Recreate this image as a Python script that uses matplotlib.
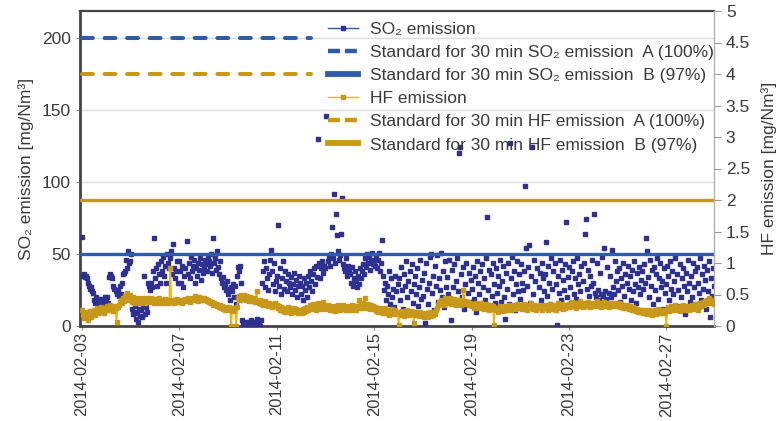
import numpy as np
import pandas as pd
import matplotlib
matplotlib.use("Agg")
import matplotlib.pyplot as plt
import matplotlib.dates as mdates
from matplotlib.lines import Line2D
from matplotlib.ticker import FuncFormatter, MultipleLocator

plt.rcParams["font.family"] = ["Liberation Sans", "DejaVu Sans"]

# ---- hourly SO2 concentration [mg/Nm3], one row per day from 2014-02-03 ----
so2_values = [
    62, 35, 36, 34, 35, 33, 30, 28, 26, 27, 24, 23, 18, 16, 20, 17, 19, 15, 17, 19, 16, 18, 15, 20,   # 02-03
    18, 20, 16, 34, 36, 35, 33, 28, 26, 24, 22, 25, 21, 28, 22, 30, 36, 37, 38, 46, 40, 52, 44, 45,   # 02-04
    50, 12, 8, 10, 14, 5, 9, 3, 12, 7, 11, 6, 14, 35, 8, 13, 10, 30, 28, 25, 30, 27, 38, 61,          # 02-05
    33, 40, 28, 43, 36, 30, 45, 38, 48, 35, 42, 30, 50, 44, 40, 47, 52, 36, 57, 40, 33, 38, 45, 30,   # 02-06
    45, 38, 30, 42, 27, 35, 40, 59, 36, 44, 33, 48, 38, 42, 46, 30, 40, 35, 44, 39, 47, 32, 43, 37,   # 02-07
    40, 46, 43, 38, 48, 45, 42, 50, 37, 61, 44, 47, 39, 52, 41, 36, 45, 33, 30, 34, 27, 29, 25, 31,   # 02-08
    22, 26, 18, 27, 24, 29, 20, 28, 15, 35, 41, 38, 42, 30, 4, 2, 1, 3, 0, 2, 3, 1, 2, 4,             # 02-09
    1, 3, 0, 2, 5, 1, 2, 0, 4, 30, 38, 45, 27, 40, 33, 25, 36, 46, 53, 38, 29, 44, 24, 31,            # 02-10
    35, 70, 28, 40, 22, 33, 45, 26, 38, 31, 24, 36, 30, 27, 34, 22, 29, 37, 25, 32, 20, 28, 35, 30,   # 02-11
    22, 28, 18, 33, 25, 30, 20, 35, 27, 38, 31, 24, 36, 40, 29, 42, 34, 130, 44, 33, 40, 45, 37, 42,  # 02-12
    40, 146, 45, 48, 42, 50, 69, 47, 92, 44, 78, 63, 52, 46, 49, 64, 89, 43, 40, 38, 47, 35, 42, 39,  # 02-13
    36, 30, 41, 28, 33, 38, 31, 27, 35, 29, 40, 33, 38, 43, 36, 47, 41, 50, 44, 48, 39, 46, 51, 43,   # 02-14
    45, 42, 48, 40, 46, 51, 38, 44, 60, 35, 25, 30, 18, 28, 22, 38, 15, 33, 20, 26, 13, 35, 24, 29,   # 02-15
    33, 18, 41, 25, 12, 36, 28, 45, 20, 31, 9, 38, 24, 43, 16, 29, 35, 22, 40, 14, 27, 46, 19, 32,    # 02-16
    21, 37, 2, 44, 26, 15, 30, 48, 50, 23, 35, 11, 42, 28, 49, 17, 33, 25, 51, 20, 38, 13, 45, 27,    # 02-17
    34, 22, 46, 18, 4, 39, 27, 43, 15, 31, 47, 24, 120, 124, 36, 20, 41, 12, 29, 44, 23, 37, 17, 32,  # 02-18
    26, 41, 19, 35, 10, 45, 30, 22, 38, 14, 43, 27, 33, 18, 47, 76, 25, 39, 12, 36, 21, 44, 29, 16,   # 02-19
    40, 23, 35, 28, 46, 17, 31, 42, 20, 5, 37, 26, 44, 15, 127, 33, 48, 22, 38, 11, 29, 45, 24, 36,   # 02-20
    19, 43, 30, 25, 38, 97, 54, 28, 41, 56, 16, 35, 124, 22, 46, 31, 13, 40, 27, 37, 18, 44, 33, 24,  # 02-21
    36, 58, 21, 42, 30, 15, 47, 26, 38, 12, 44, 29, 1, 35, 23, 46, 18, 39, 32, 25, 43, 72, 20, 34,    # 02-22
    41, 27, 16, 38, 45, 22, 33, 19, 47, 29, 36, 24, 42, 14, 31, 44, 64, 74, 26, 39, 21, 35, 28, 46,   # 02-23
    30, 78, 23, 20, 44, 25, 18, 37, 22, 48, 21, 54, 24, 19, 41, 23, 35, 20, 53, 27, 22, 45, 31, 38,   # 02-24
    25, 40, 17, 33, 28, 44, 21, 36, 13, 30, 42, 26, 35, 18, 39, 24, 45, 29, 16, 37, 27, 41, 22, 32,   # 02-25
    38, 26, 43, 30, 61, 52, 34, 20, 46, 28, 39, 15, 41, 25, 36, 47, 19, 33, 44, 27, 31, 12, 40, 23,   # 02-26
    29, 42, 35, 18, 45, 26, 38, 22, 31, 47, 14, 36, 25, 43, 20, 33, 40, 28, 8, 37, 24, 46, 30, 17,    # 02-27
    35, 20, 44, 27, 38, 15, 41, 30, 23, 47, 18, 36, 26, 42, 32, 12, 39, 24, 45, 6, 33, 21, 40, 28,    # 02-28
]

# ---- hourly HF concentration [mg/Nm3], one row per day from 2014-02-03 ----
hf_values = [
    0.25, 0.18, 0.12, 0.22, 0.15, 0.20, 0.10, 0.17, 0.24, 0.14, 0.21, 0.19, 0.26, 0.18, 0.23, 0.28, 0.20, 0.25, 0.22, 0.30, 0.24, 0.27, 0.21, 0.29,  # 02-03
    0.26, 0.31, 0.25, 0.29, 0.33, 0.27, 0.30, 0.24, 0.32, 0.28, 0.06, 0.30, 0.34, 0.38, 0.42, 0.36, 0.45, 0.40, 0.48, 0.43, 0.52, 0.46, 0.41, 0.50,  # 02-04
    0.44, 0.38, 0.46, 0.41, 0.37, 0.43, 0.39, 0.45, 0.40, 0.36, 0.42, 0.38, 0.44, 0.40, 0.37, 0.43, 0.39, 0.45, 0.41, 0.38, 0.44, 0.40, 0.42, 0.37,  # 02-05
    0.43, 0.39, 0.41, 0.37, 0.44, 0.40, 0.38, 0.42, 0.36, 0.40, 0.43, 0.39, 0.41, 0.37, 0.40, 0.92, 0.38, 0.42, 0.39, 0.36, 0.41, 0.38, 0.43, 0.40,  # 02-06
    0.38, 0.42, 0.40, 0.36, 0.41, 0.39, 0.43, 0.40, 0.44, 0.41, 0.38, 0.42, 0.45, 0.41, 0.43, 0.47, 0.42, 0.44, 0.40, 0.46, 0.43, 0.41, 0.45, 0.42,  # 02-07
    0.44, 0.41, 0.43, 0.39, 0.42, 0.38, 0.40, 0.36, 0.38, 0.34, 0.37, 0.33, 0.35, 0.31, 0.34, 0.30, 0.33, 0.29, 0.31, 0.27, 0.30, 0.26, 0.29, 0.28,  # 02-08
    0.27, 0.30, 0.25, 0.00, 0.28, 0.24, 0.26, 0.29, 0.00, 0.30, 0.44, 0.48, 0.42, 0.50, 0.46, 0.43, 0.49, 0.45, 0.41, 0.47, 0.44, 0.40, 0.46, 0.43,  # 02-09
    0.42, 0.39, 0.44, 0.38, 0.55, 0.40, 0.37, 0.41, 0.35, 0.38, 0.33, 0.36, 0.39, 0.34, 0.37, 0.32, 0.36, 0.33, 0.35, 0.30, 0.34, 0.31, 0.36, 0.32,  # 02-10
    0.33, 0.29, 0.31, 0.26, 0.30, 0.27, 0.24, 0.29, 0.22, 0.27, 0.25, 0.30, 0.23, 0.28, 0.21, 0.26, 0.24, 0.29, 0.22, 0.27, 0.25, 0.20, 0.26, 0.23,  # 02-11
    0.25, 0.21, 0.27, 0.23, 0.28, 0.24, 0.30, 0.26, 0.29, 0.33, 0.27, 0.31, 0.35, 0.28, 0.32, 0.26, 0.30, 0.36, 0.29, 0.33, 0.27, 0.31, 0.38, 0.30,  # 02-12
    0.31, 0.27, 0.33, 0.29, 0.25, 0.30, 0.26, 0.32, 0.28, 0.24, 0.30, 0.27, 0.33, 0.29, 0.26, 0.31, 0.28, 0.34, 0.27, 0.30, 0.25, 0.32, 0.29, 0.26,  # 02-13
    0.30, 0.27, 0.33, 0.26, 0.31, 0.28, 0.25, 0.32, 0.29, 0.42, 0.30, 0.34, 0.28, 0.36, 0.31, 0.45, 0.33, 0.29, 0.35, 0.30, 0.27, 0.33, 0.29, 0.31,  # 02-14
    0.27, 0.30, 0.24, 0.28, 0.22, 0.26, 0.29, 0.23, 0.27, 0.20, 0.25, 0.28, 0.21, 0.26, 0.23, 0.18, 0.24, 0.20, 0.27, 0.22, 0.19, 0.25, 0.21, 0.23,  # 02-15
    0.02, 0.22, 0.18, 0.24, 0.20, 0.16, 0.23, 0.19, 0.25, 0.21, 0.17, 0.22, 0.19, 0.24, 0.20, 0.05, 0.21, 0.18, 0.23, 0.19, 0.16, 0.22, 0.20, 0.17,  # 02-16
    0.19, 0.15, 0.21, 0.17, 0.20, 0.14, 0.18, 0.22, 0.16, 0.20, 0.17, 0.23, 0.19, 0.25, 0.28, 0.33, 0.38, 0.35, 0.42, 0.37, 0.40, 0.34, 0.44, 0.39,  # 02-17
    0.36, 0.41, 0.38, 0.44, 0.35, 0.40, 0.37, 0.43, 0.39, 0.34, 0.41, 0.36, 0.42, 0.38, 0.33, 0.39, 0.57, 0.36, 0.40, 0.35, 0.38, 0.33, 0.37, 0.34,  # 02-18
    0.31, 0.35, 0.29, 0.33, 0.37, 0.30, 0.34, 0.28, 0.32, 0.36, 0.30, 0.33, 0.27, 0.31, 0.35, 0.29, 0.33, 0.26, 0.30, 0.34, 0.28, 0.32, 0.02, 0.29,  # 02-19
    0.25, 0.29, 0.23, 0.28, 0.31, 0.26, 0.30, 0.24, 0.28, 0.32, 0.27, 0.25, 0.30, 0.34, 0.28, 0.26, 0.31, 0.29, 0.33, 0.27, 0.30, 0.35, 0.28, 0.31,  # 02-20
    0.29, 0.33, 0.27, 0.31, 0.35, 0.28, 0.32, 0.26, 0.30, 0.34, 0.29, 0.36, 0.31, 0.27, 0.33, 0.30, 0.25, 0.32, 0.28, 0.34, 0.30, 0.26, 0.31, 0.29,  # 02-21
    0.33, 0.28, 0.31, 0.25, 0.30, 0.35, 0.29, 0.32, 0.27, 0.34, 0.30, 0.26, 0.31, 0.36, 0.28, 0.33, 0.30, 0.35, 0.27, 0.32, 0.29, 0.34, 0.30, 0.33,  # 02-22
    0.35, 0.30, 0.34, 0.38, 0.31, 0.36, 0.33, 0.29, 0.37, 0.32, 0.35, 0.40, 0.31, 0.34, 0.30, 0.37, 0.33, 0.36, 0.32, 0.38, 0.34, 0.30, 0.35, 0.33,  # 02-23
    0.36, 0.31, 0.35, 0.33, 0.39, 0.32, 0.34, 0.37, 0.30, 0.35, 0.33, 0.38, 0.31, 0.36, 0.34, 0.30, 0.37, 0.33, 0.35, 0.31, 0.36, 0.34, 0.32, 0.37,  # 02-24
    0.33, 0.36, 0.30, 0.35, 0.32, 0.29, 0.34, 0.31, 0.28, 0.33, 0.30, 0.27, 0.31, 0.28, 0.26, 0.30, 0.25, 0.28, 0.24, 0.27, 0.23, 0.26, 0.22, 0.25,  # 02-25
    0.23, 0.20, 0.25, 0.21, 0.24, 0.19, 0.22, 0.26, 0.20, 0.23, 0.18, 0.24, 0.21, 0.25, 0.19, 0.22, 0.27, 0.20, 0.24, 0.21, 0.26, 0.23, 0.20, 0.25,  # 02-26
    0.00, 0.26, 0.30, 0.24, 0.28, 0.32, 0.25, 0.29, 0.27, 0.33, 0.26, 0.30, 0.28, 0.24, 0.31, 0.27, 0.34, 0.29, 0.25, 0.30, 0.27, 0.32, 0.26, 0.29,  # 02-27
    0.28, 0.33, 0.27, 0.31, 0.35, 0.29, 0.32, 0.26, 0.30, 0.36, 0.31, 0.34, 0.38, 0.33, 0.40, 0.36, 0.42, 0.37, 0.44, 0.39, 0.41, 0.36, 0.38, 0.35,  # 02-28
]

series_start = "2014-02-03 00:00"

# 30-minute emission standards
so2_standard_a = 200     # A (100%)
so2_standard_b = 50      # B (97%)
hf_standard_a = 4.0      # A (100%)
hf_standard_b = 2.0      # B (97%)
standard_a_span = ["2014-02-03 00:00", "2014-02-12 10:00"]

legend_labels = [
    "SO\u2082 emission",
    "Standard for 30 min SO\u2082 emission  A (100%)",
    "Standard for 30 min SO\u2082 emission  B (97%)",
    "HF emission",
    "Standard for 30 min HF emission  A (100%)",
    "Standard for 30 min HF emission  B (97%)",
]

# ---- colours ----
so2_marker = "#2e318f"
so2_line = "#2f5ca8"
hf_line = "#f2b705"
hf_marker = "#c8981a"
hf_std = "#c9990f"
text_col = "#3a3a3a"

times = pd.date_range(series_start, periods=len(so2_values), freq="h")
so2 = np.array(so2_values, dtype=float)
hf = np.array(hf_values, dtype=float)
span_a = pd.to_datetime(standard_a_span)

fig = plt.figure(figsize=(7.84, 4.21), dpi=100)
ax = fig.add_axes([80 / 784, 1 - 326 / 421, (714 - 80) / 784, (326 - 11) / 421])
ax2 = ax.twinx()

so2_top = 218.75
ax.set_ylim(0, so2_top)
ax2.set_ylim(0, 5)
ax.set_xlim(pd.Timestamp("2014-02-02 22:00"), pd.Timestamp("2014-02-28 23:00"))

# grid on the SO2 axis
ax.yaxis.set_major_locator(MultipleLocator(50))
ax.grid(axis="y", color="#dcdcdc", lw=1.0, zorder=0)
ax.set_axisbelow(True)

# SO2 measurements and standards
ax.plot(times, so2, ls="none", marker="s", ms=2.7, mfc=so2_marker, mec=so2_marker, zorder=3)
ax.plot(span_a, [so2_standard_a] * 2, color=so2_line, lw=2.9, dashes=(2.7, 2.9),
        dash_capstyle="round", zorder=4)
ax.axhline(so2_standard_b, color=so2_line, lw=2.4, zorder=4)

# HF measurements and standards
ax2.plot(times, hf, color=hf_line, lw=1.2, marker="s", ms=3.4, mfc=hf_marker, mec=hf_marker, zorder=3)
ax2.plot(span_a, [hf_standard_a] * 2, color=hf_std, lw=2.9, dashes=(2.7, 2.9),
         dash_capstyle="round", zorder=4)
ax2.axhline(hf_standard_b, color=hf_std, lw=2.4, zorder=4)

# axes styling
fs = 12.5
fmt = FuncFormatter(lambda v, p: f"{v:g}")
ax.yaxis.set_major_formatter(fmt)
ax2.yaxis.set_major_locator(MultipleLocator(0.5))
ax2.yaxis.set_major_formatter(fmt)

ax.xaxis.set_major_locator(mdates.DayLocator(bymonthday=[3, 7, 11, 15, 19, 23, 27]))
ax.xaxis.set_major_formatter(mdates.DateFormatter("%Y-%m-%d"))
for lab in ax.get_xticklabels():
    lab.set_rotation(90)

ax.tick_params(axis="y", labelsize=fs, colors="#888888", labelcolor=text_col, length=3, width=0.8)
ax.tick_params(axis="x", labelsize=11.8, colors="#888888", labelcolor=text_col, length=3,
               width=0.8, pad=1.5)
ax2.tick_params(axis="y", labelsize=fs, colors="#999999", labelcolor=text_col, length=5, width=0.8)

for side in ("left", "bottom", "top"):
    ax.spines[side].set_color("#454545")
ax.spines["left"].set_linewidth(2.0)
ax.spines["bottom"].set_linewidth(2.0)
ax.spines["top"].set_linewidth(1.6)
ax.spines["right"].set_visible(False)
for side in ("left", "bottom", "top"):
    ax2.spines[side].set_visible(False)
ax2.spines["right"].set_color("#b0b0b0")
ax2.spines["right"].set_linewidth(1.0)

ax.set_ylabel("SO\u2082 emission [mg/Nm\u00b3]", fontsize=fs, color=text_col, labelpad=6)
ax2.set_ylabel("HF emission [mg/Nm\u00b3]", fontsize=fs, color=text_col, labelpad=8)

# legend
handles = [
    Line2D([], [], color=so2_line, lw=1.0, marker="s", ms=2.6, mfc=so2_marker, mec=so2_marker),
    Line2D([], [], color=so2_line, lw=3.2, dashes=(2.7, 1.1)),
    Line2D([], [], color=so2_line, lw=4.2),
    Line2D([], [], color=hf_line, lw=1.0, marker="s", ms=2.6, mfc=hf_marker, mec=hf_marker),
    Line2D([], [], color=hf_std, lw=3.2, dashes=(2.7, 1.1)),
    Line2D([], [], color=hf_std, lw=4.2),
]
leg = ax2.legend(handles, legend_labels, loc="upper right", bbox_to_anchor=(1.0, 0.966),
                 frameon=False, fontsize=fs, handlelength=1.75, handletextpad=0.7,
                 labelspacing=0.46, borderaxespad=0.0, borderpad=0.0)
for t in leg.get_texts():
    t.set_color(text_col)

fig.savefig("out.png", dpi=100)
